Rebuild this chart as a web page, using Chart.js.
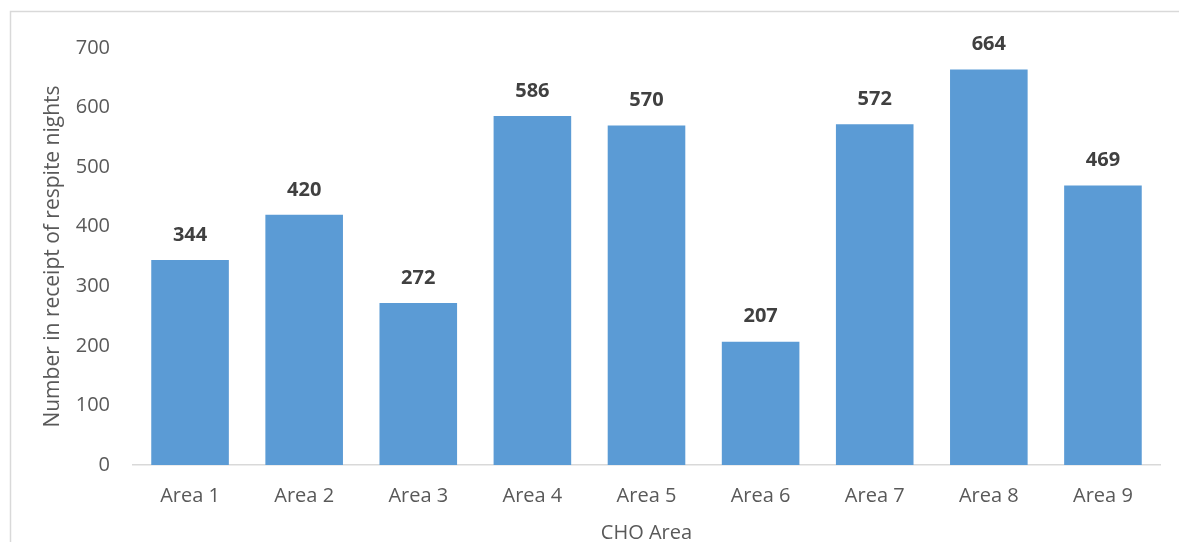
<!DOCTYPE html>
<html>
<head>
<meta charset="utf-8">
<script src="https://cdn.jsdelivr.net/npm/chart.js@4/dist/chart.umd.min.js"></script>
<style>
  html, body { margin: 0; padding: 0; background: #ffffff; }
  #wrap { position: relative; width: 1179px; height: 542px; }
  canvas { display: block; }
</style>
</head>
<body>
<div id="wrap"><canvas id="c" width="1179" height="542"></canvas></div>
<script>
// Respite nights by CHO area
const categories = ['Area 1', 'Area 2', 'Area 3', 'Area 4', 'Area 5', 'Area 6', 'Area 7', 'Area 8', 'Area 9'];
const respiteNights = [344, 420, 272, 586, 570, 207, 572, 664, 469];
const yTicks = [0, 100, 200, 300, 400, 500, 600, 700];

const FONT = '"Open Sans", "Liberation Sans", sans-serif';

// Thin frame around the chart, open at the right and bottom edges
const framePlugin = {
  id: 'frame',
  beforeDraw(chart) {
    const ctx = chart.ctx;
    ctx.save();
    ctx.strokeStyle = '#D9D9D9';
    ctx.lineWidth = 1.5;
    ctx.beginPath();
    ctx.moveTo(10.5, chart.height);
    ctx.lineTo(10.5, 11.5);
    ctx.lineTo(chart.width, 11.5);
    ctx.stroke();
    ctx.restore();
  }
};

// Bold value labels above each bar
const valueLabels = {
  id: 'valueLabels',
  afterDatasetsDraw(chart) {
    const ctx = chart.ctx;
    const meta = chart.getDatasetMeta(0);
    ctx.save();
    ctx.font = 'bold 20px ' + FONT;
    ctx.fillStyle = '#404040';
    ctx.textAlign = 'center';
    ctx.textBaseline = 'middle';
    meta.data.forEach((bar, i) => {
      ctx.fillText(String(respiteNights[i]), bar.x, bar.y - 25);
    });
    ctx.restore();
  }
};

new Chart(document.getElementById('c'), {
  type: 'bar',
  data: {
    labels: categories,
    datasets: [{
      data: respiteNights,
      backgroundColor: '#5B9BD5',
      borderWidth: 0,
      categoryPercentage: 1,
      barPercentage: 0.68
    }]
  },
  options: {
    responsive: false,
    animation: false,
    layout: { padding: { left: 0, right: 19, top: 48, bottom: 0 } },
    plugins: { legend: { display: false }, tooltip: { enabled: false } },
    scales: {
      x: {
        grid: { display: false, drawTicks: false },
        border: { display: true, color: '#D9D9D9', width: 1.5 },
        ticks: { color: '#595959', font: { family: FONT, size: 20 }, padding: 19 },
        title: {
          display: true, text: 'CHO Area', color: '#595959',
          font: { family: FONT, size: 20 }, padding: { top: 0, bottom: -3 }
        },
        afterFit(scale) { scale.height = 77; }
      },
      y: {
        min: 0, max: 700,
        afterBuildTicks(scale) { scale.ticks = yTicks.map(v => ({ value: v })); },
        grid: { display: false, drawTicks: false },
        border: { display: false },
        ticks: { color: '#595959', font: { family: FONT, size: 20 }, padding: 23 },
        title: {
          display: true, text: 'Number in receipt of respite nights', color: '#595959',
          font: { family: FONT, size: 21 }, padding: { top: 40, bottom: 0 }
        },
        afterFit(scale) { scale.width = 133; }
      }
    }
  },
  plugins: [framePlugin, valueLabels]
});
</script>
</body>
</html>
